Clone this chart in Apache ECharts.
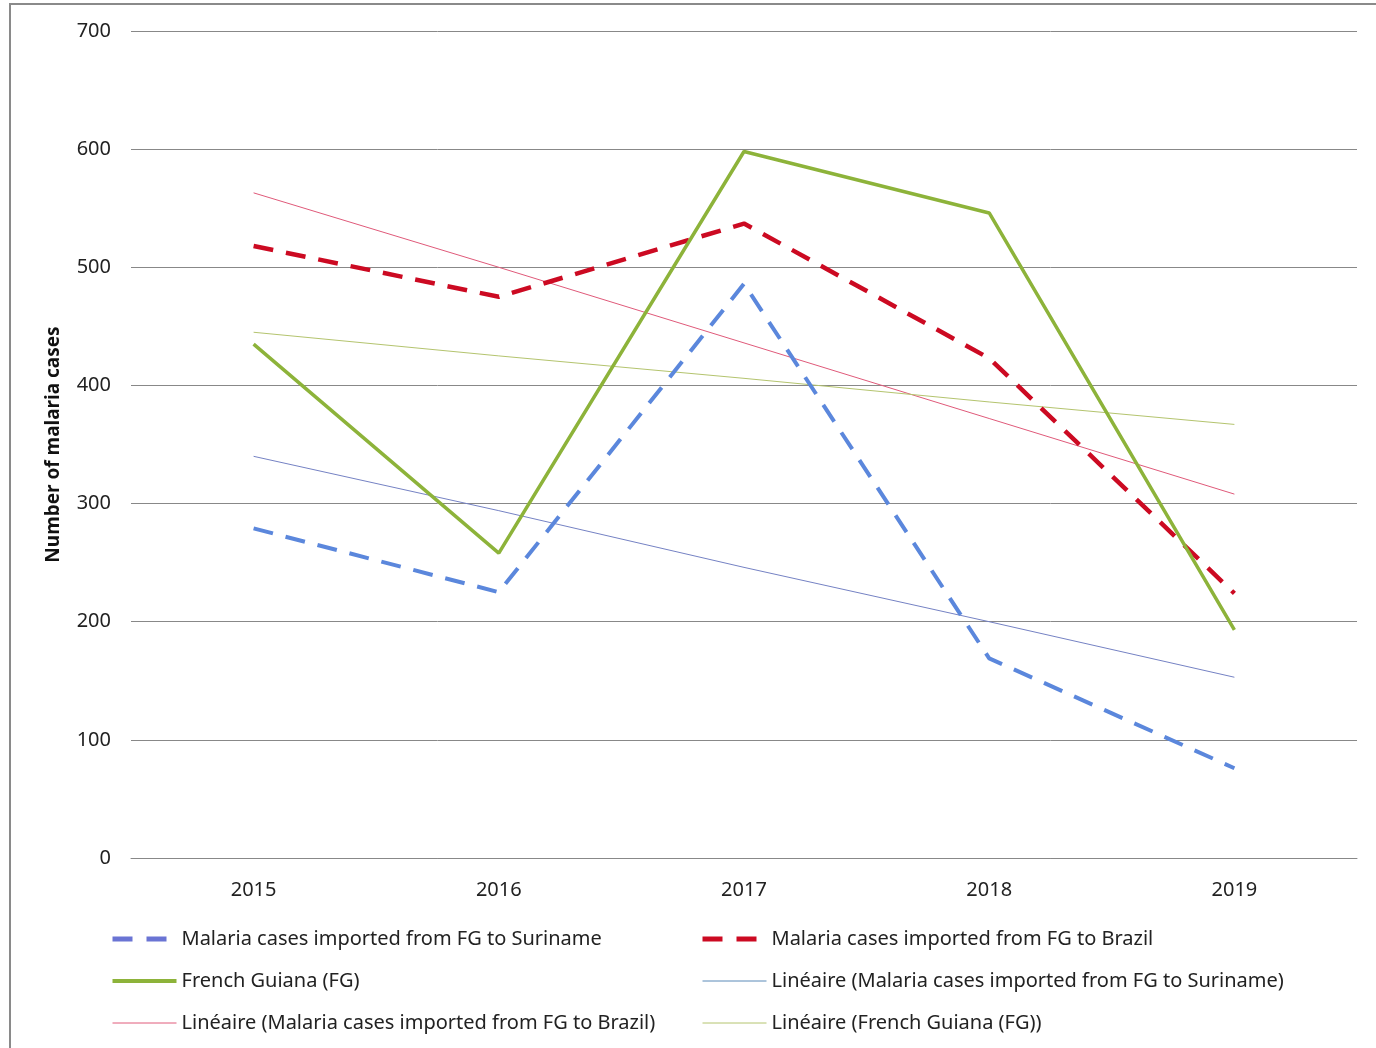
<!DOCTYPE html>
<html>
<head>
<meta charset="utf-8">
<script src="https://cdn.jsdelivr.net/npm/echarts@6/dist/echarts.min.js"></script>
<style>
  html, body { margin: 0; padding: 0; background: #fff; }
  #chart { width: 1376px; height: 1048px; }
</style>
</head>
<body>
<div id="chart"></div>
<script>
// data
const years = ['2015', '2016', '2017', '2018', '2019'];
const suriname = [279, 225, 486, 169, 76];
const brazil = [518, 475, 537, 423, 224];
const frenchGuiana = [435, 258, 598, 546, 193];
// trend lines (Excel "Linéaire"), read at each year
const surinameTrend = [340, 294, 246, 200, 153];
const brazilTrend = [563, 500, 436, 372, 308];
const fgTrend = [445, 425, 406, 386, 367];

const yTicks = { min: 0, max: 700, interval: 100 };

const names = {
  sur: 'Malaria cases imported from FG to Suriname',
  bra: 'Malaria cases imported from FG to Brazil',
  fg: 'French Guiana (FG)',
  surT: 'Linéaire (Malaria cases imported from FG to Suriname)',
  braT: 'Linéaire (Malaria cases imported from FG to Brazil)',
  fgT: 'Linéaire (French Guiana (FG))'
};

const font = 'Noto Sans';
const legendText = { fontFamily: font, fontSize: 20, color: '#222' };

// legend keys: thick dashes for the data series, thin lines for the trends
const dashKey = { width: 5, type: [20, 14] };
const solidKey = { width: 4 };
const thinKey = { width: 1 };

const chart = echarts.init(document.getElementById('chart'));

const legendBase = {
  orient: 'vertical',
  top: 924,
  itemWidth: 64,
  itemHeight: 16,
  itemGap: 22,
  textStyle: legendText,
  itemStyle: { opacity: 0 }
};

const option = {
  animation: false,
  backgroundColor: '#fff',
  graphic: [{
    type: 'rect',
    shape: { x: 10, y: 4, width: 1380, height: 1060 },
    style: { fill: 'none', stroke: '#8a8a8a', lineWidth: 2 },
    silent: true
  }],
  legend: [
    Object.assign({}, legendBase, {
      left: 105,
      data: [
        { name: names.sur, lineStyle: Object.assign({ color: '#6a74d4' }, dashKey) },
        { name: names.fg, lineStyle: solidKey },
        { name: names.braT, lineStyle: thinKey }
      ]
    }),
    Object.assign({}, legendBase, {
      left: 695,
      data: [
        { name: names.bra, lineStyle: dashKey },
        { name: names.surT, lineStyle: Object.assign({ color: '#5b8ab8' }, thinKey) },
        { name: names.fgT, lineStyle: thinKey }
      ]
    })
  ],
  grid: {
    left: 131,
    right: 19,
    top: 31,
    bottom: 190
  },
  xAxis: {
    type: 'category',
    data: years,
    boundaryGap: true,
    axisLine: { show: true, lineStyle: { color: '#888', width: 1 } },
    axisTick: { show: false },
    axisLabel: { fontFamily: font, fontSize: 20, color: '#222', margin: 22 }
  },
  yAxis: {
    type: 'value',
    min: yTicks.min,
    max: yTicks.max,
    interval: yTicks.interval,
    name: 'Number of malaria cases',
    nameLocation: 'middle',
    nameRotate: 90,
    nameGap: 68,
    nameTextStyle: { fontFamily: font, fontSize: 19, fontWeight: 'bold', color: '#111' },
    axisLine: { show: false },
    axisTick: { show: false },
    axisLabel: { fontFamily: font, fontSize: 20, color: '#222', margin: 20 },
    splitLine: { lineStyle: { color: '#888', width: 1 } }
  },
  series: [
    {
      name: names.sur,
      type: 'line',
      data: suriname,
      symbol: 'none',
      z: 3,
      lineStyle: { color: '#5b87dc', width: 4, type: [20, 13] },
      itemStyle: { color: '#6a72d0' }
    },
    {
      name: names.bra,
      type: 'line',
      data: brazil,
      symbol: 'none',
      z: 3,
      lineStyle: { color: '#cc0a22', width: 4.5, type: [20, 13] },
      itemStyle: { color: '#cc0a22' }
    },
    {
      name: names.fg,
      type: 'line',
      data: frenchGuiana,
      symbol: 'none',
      z: 3,
      lineStyle: { color: '#8db33a', width: 3.5 },
      itemStyle: { color: '#8db33a' }
    },
    {
      name: names.surT,
      type: 'line',
      data: surinameTrend,
      symbol: 'none',
      z: 2,
      lineStyle: { color: '#7582c4', width: 1 },
      itemStyle: { color: '#5b8ab8' }
    },
    {
      name: names.braT,
      type: 'line',
      data: brazilTrend,
      symbol: 'none',
      z: 2,
      lineStyle: { color: '#e05a7a', width: 1 },
      itemStyle: { color: '#d05a8a' }
    },
    {
      name: names.fgT,
      type: 'line',
      data: fgTrend,
      symbol: 'none',
      z: 2,
      lineStyle: { color: '#b4c46e', width: 1 },
      itemStyle: { color: '#b4c46e' }
    }
  ]
};

chart.setOption(option);
</script>
</body>
</html>
